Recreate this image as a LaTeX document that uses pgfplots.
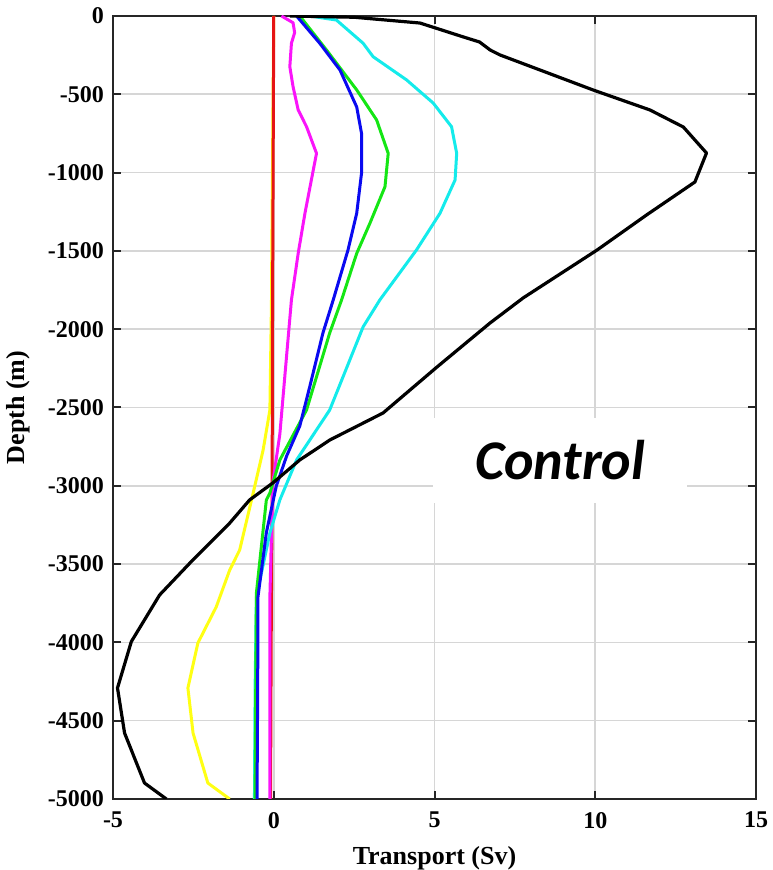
\documentclass[border=0pt]{standalone}
\usepackage{pgfplots}
\pgfplotsset{compat=1.18}
\usepackage{fontspec}
\setmainfont{Liberation Serif}
\newfontfamily\carlito{Carlito}
\definecolor{myred}{RGB}{230,20,20}
\definecolor{mygreen}{RGB}{20,230,20}
\definecolor{mycyan}{RGB}{20,235,235}
\definecolor{myyellow}{RGB}{255,255,20}
\definecolor{mymag}{RGB}{250,20,250}
\definecolor{myblue}{RGB}{10,10,240}
\begin{document}
\begin{tikzpicture}
\useasboundingbox (-56.5pt,-35.5pt) rectangle (329.5pt,399.5pt);
\begin{axis}[
  scale only axis, width=321.5pt, height=391.5pt,
  at={(0,0)}, anchor=south west,
  xmin=-5, xmax=15, ymin=-5000, ymax=0,
  xtick={-5,0,5,10,15}, xticklabels={-5,0,5,10,15},
  ytick={-5000,-4500,-4000,-3500,-3000,-2500,-2000,-1500,-1000,-500,0},
  yticklabels={-5000,-4500,-4000,-3500,-3000,-2500,-2000,-1500,-1000,-500,0},
  grid=major, grid style={color=black!16, line width=0.8pt},
  axis line style={line width=1.2pt, color=black!85},
  tick style={line width=1pt, color=black!85}, major tick length=4pt,
  tick align=inside,
  ticklabel style={font=\fontsize{12}{14}\selectfont\bfseries},
  xticklabel style={yshift=-3pt},
  yticklabel style={xshift=-1pt},
  xlabel={Transport (Sv)}, ylabel={Depth (m)},
  xlabel style={yshift=-2pt},
  ylabel style={yshift=2pt},
  label style={font=\fontsize{13}{15}\selectfont\bfseries},
  every axis plot/.append style={line width=1.5pt, line join=round},
]
% yellow
\addplot[color=myyellow] coordinates {
(0,0) (-0.02,-500) (-0.04,-1000) (-0.06,-1500) (-0.07,-1813) (-0.12,-2516) (-0.33,-2771) (-0.64,-3046) (-1.06,-3410) (-1.37,-3538) (-1.79,-3774) (-2.36,-4004) (-2.67,-4291) (-2.51,-4579) (-2.05,-4898) (-1.37,-5000)};
% red
\addplot[color=myred] coordinates {
(0,0) (-0.02,-1000) (-0.04,-2000) (-0.05,-3000) (-0.08,-4000) (-0.1,-5000)};
% magenta
\addplot[color=mymag] coordinates {
(0.24,0) (0.6,-43) (0.65,-106) (0.55,-174) (0.5,-324) (0.6,-451) (0.76,-600) (1.02,-707) (1.33,-877) (1.17,-1047) (0.97,-1260) (0.76,-1516) (0.55,-1813) (0.37,-2240) (0.19,-2669) (-0.02,-2967) (-0.07,-3301) (-0.12,-3708) (-0.12,-4300) (-0.12,-5000)};
% cyan
\addplot[color=mycyan] coordinates {
(1.12,0) (1.95,-26) (2.78,-174) (3.09,-260) (4.13,-408) (4.96,-556) (5.53,-707) (5.69,-877) (5.64,-1047) (5.17,-1260) (4.44,-1494) (3.30,-1813) (2.78,-1985) (1.74,-2516) (0.71,-2835) (0.19,-3090) (-0.12,-3301) (-0.54,-3710) (-0.58,-4300) (-0.6,-5000)};
% green
\addplot[color=mygreen] coordinates {
(0.81,0) (1.64,-217) (2.58,-472) (3.2,-664) (3.56,-877) (3.46,-1090) (2.99,-1324) (2.58,-1516) (2.11,-1813) (1.74,-2024) (1.02,-2516) (0.19,-2835) (-0.12,-3046) (-0.23,-3090) (-0.54,-3685) (-0.56,-4300) (-0.58,-5000)};
% blue
\addplot[color=myblue] coordinates {
(0.71,0) (1.43,-174) (2.06,-345) (2.58,-581) (2.73,-749) (2.73,-1004) (2.58,-1260) (2.31,-1494) (1.85,-1813) (1.53,-2024) (1.12,-2367) (0.81,-2618) (0.4,-2810) (0.08,-3001) (-0.23,-3299) (-0.49,-3708) (-0.5,-4300) (-0.52,-5000)};
% black
\addplot[color=black, line width=1.6pt] coordinates {
(0.5,0) (2.5,-8) (4.55,-45) (5.9,-134) (6.4,-166) (6.73,-217) (7.04,-249) (9.94,-473) (11.7,-600) (12.74,-709) (13.46,-875) (13.1,-1060) (11.6,-1270) (10.06,-1494) (7.76,-1800) (6.73,-1960) (5.08,-2241) (3.4,-2535) (1.74,-2708) (0.81,-2835) (-0.03,-2982) (-0.75,-3090) (-1.37,-3238) (-2.5,-3470) (-3.55,-3697) (-4.43,-3995) (-4.86,-4291) (-4.64,-4579) (-4.02,-4898) (-3.34,-5000)};
\node[fill=white, inner sep=0pt, minimum width=127pt, minimum height=42.5pt,
  font=\carlito\bfseries\itshape\fontsize{28}{30}\selectfont] at (axis cs:8.91,-2838) {Control};
\end{axis}
\end{tikzpicture}
\end{document}
